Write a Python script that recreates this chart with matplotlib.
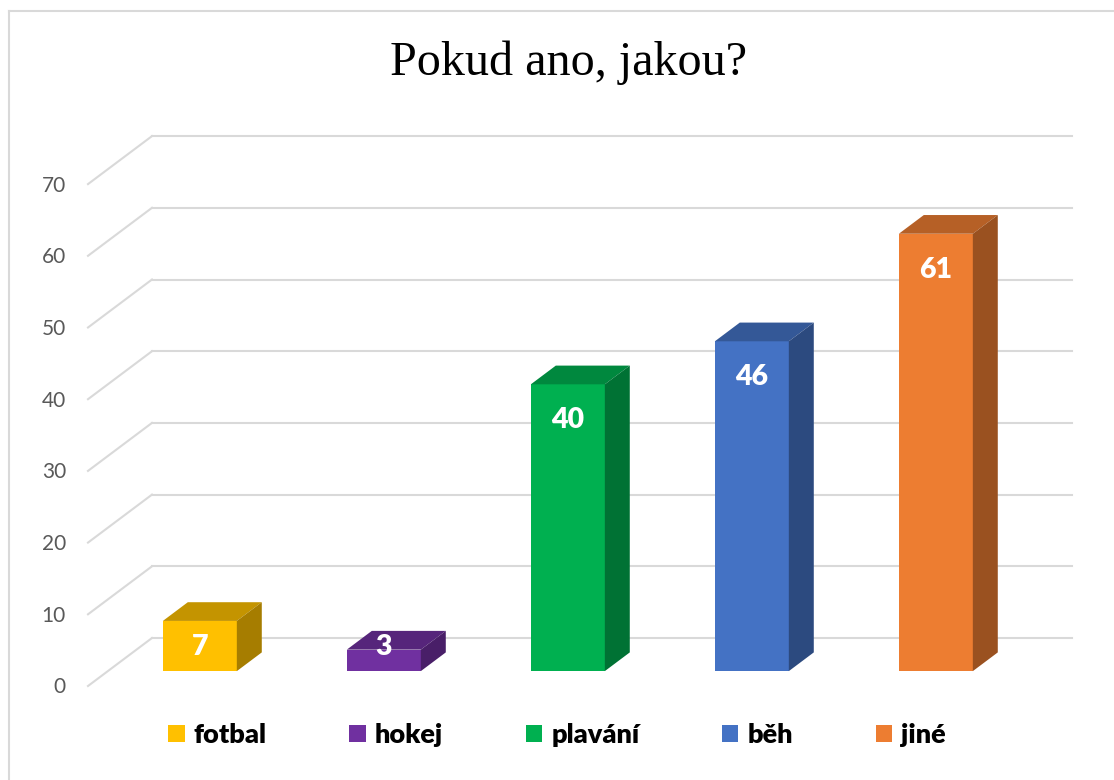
import matplotlib.pyplot as plt
from matplotlib.patches import Polygon, Patch
import numpy as np

sports = ['fotbal', 'hokej', 'plavání', 'běh', 'jiné']
counts = [7, 3, 40, 46, 61]
colors = ['#FFC000', '#7030A0', '#00B050', '#4472C4', '#ED7D31']
yticks = [0, 10, 20, 30, 40, 50, 60, 70]

sans = ['Lato', 'DejaVu Sans']

# fake 3D: depth 0 = front edge of the wall, depth 1 = back wall
DX = 64 / 184
DY = 48 / 7.17
d0, d1 = 0.31, 0.70
w = 0.402


def shade(c, f):
    r, g, b = [int(c[i:i + 2], 16) for i in (1, 3, 5)]
    return (r * f / 255, g * f / 255, b * f / 255)


fig = plt.figure(figsize=(11.14, 7.8), dpi=100)
ax = fig.add_axes([0, 0, 1, 1])
ax.set_xlim(-180 / 184, (1114 - 180) / 184)
ax.set_ylim((686 - 780) / 7.17, 686 / 7.17)
ax.axis('off')

grid = '#D9D9D9'
for v in yticks:
    ax.plot([-0.5 + DX, 4.5 + DX], [v + DY, v + DY], color=grid, lw=1.5, zorder=1)
    ax.plot([-0.5, -0.5 + DX], [v, v + DY], color=grid, lw=1.5, zorder=1)
    ax.text(-0.62, v - 0.2, str(v), ha='right', va='center', fontsize=15,
            color='#595959', family=sans)

x = np.arange(len(sports))
ax.bar(x + d0 * DX, counts, width=w, bottom=d0 * DY, color=colors, zorder=3)

for xi, v, c in zip(x, counts, colors):
    l, r = xi - w / 2, xi + w / 2
    top = [(l + d0 * DX, v + d0 * DY), (r + d0 * DX, v + d0 * DY),
           (r + d1 * DX, v + d1 * DY), (l + d1 * DX, v + d1 * DY)]
    side = [(r + d0 * DX, d0 * DY), (r + d0 * DX, v + d0 * DY),
            (r + d1 * DX, v + d1 * DY), (r + d1 * DX, d1 * DY)]
    ax.add_patch(Polygon(top, closed=True, fc=shade(c, 0.77), ec='none', zorder=3))
    ax.add_patch(Polygon(side, closed=True, fc=shade(c, 0.65), ec='none', zorder=3))
    ax.text(xi + d0 * DX, max(v - 5, 3.3) + d0 * DY, str(v), ha='center', va='center',
            fontsize=20.5, fontweight='heavy', color='white', family=sans, zorder=4)

fig.text(569 / 1114, 1 - 75 / 780, 'Pokud ano, jakou?', ha='center', va='baseline',
         fontsize=34.7, family='Liberation Serif')

handles = [Patch(facecolor=c, edgecolor='none') for c in colors]
fig.legend(handles, sports, ncol=5, loc='center', bbox_to_anchor=(557 / 1114, 1 - 735 / 780),
           frameon=False, prop={'family': sans, 'size': 19.5, 'weight': 'heavy'},
           handlelength=0.6, handleheight=0.6, handletextpad=0.34, columnspacing=3.05)

# chart border (left and top edges visible)
fig.add_artist(plt.Line2D([9 / 1114, 9 / 1114], [0, 1 - 11 / 780], color=grid, lw=1.5,
                          transform=fig.transFigure))
fig.add_artist(plt.Line2D([9 / 1114, 1], [1 - 11 / 780, 1 - 11 / 780], color=grid, lw=1.5,
                          transform=fig.transFigure))

fig.savefig('out.png', dpi=100)
